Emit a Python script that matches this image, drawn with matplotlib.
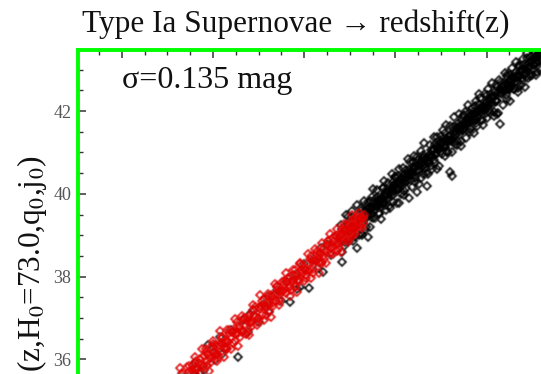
import matplotlib
matplotlib.use("Agg")
import numpy as np
import matplotlib.pyplot as plt
from matplotlib.ticker import MultipleLocator

# ---------------- data ----------------
# dense high-z black sample: x positions (arbitrary redshift axis units) and distance moduli
black_x = [round(2.40 + 0.01 * i, 2) for i in range(236)]
black_mu = [
    38.99, 38.84, 39.16, 38.97, 39.11, 38.84, 39.20, 39.01, 39.32, 39.13,
    38.99, 39.24, 39.16, 39.45, 39.12, 39.28, 38.98, 39.40, 39.25, 39.49,
    39.34, 39.18, 39.48, 39.32, 39.62, 39.31, 39.52, 39.13, 39.65, 39.51,
    39.65, 39.50, 39.82, 39.44, 39.65, 39.42, 39.79, 39.75, 39.60, 39.91,
    39.70, 39.92, 39.53, 39.82, 39.91, 39.70, 40.13, 39.80, 39.95, 39.73,
    40.08, 39.94, 40.06, 39.70, 40.20, 39.95, 40.09, 40.29, 39.98, 40.18,
    40.41, 40.26, 40.13, 40.43, 39.78, 40.25, 40.38, 40.21, 40.46, 40.06,
    40.38, 40.25, 40.57, 40.37, 40.50, 39.89, 40.60, 40.33, 40.52, 40.77,
    40.45, 40.62, 40.37, 40.71, 40.04, 40.81, 40.53, 40.77, 40.38, 40.75,
    40.94, 40.70, 40.91, 40.62, 40.87, 40.20, 40.76, 40.88, 40.66, 41.07,
    40.91, 41.05, 40.82, 41.21, 40.94, 41.16, 40.61, 41.12, 41.28, 41.01,
    41.21, 40.96, 41.32, 41.18, 41.46, 41.10, 41.32, 41.01, 41.40, 41.27,
    40.53, 41.27, 40.43, 41.62, 41.25, 41.52, 41.42, 41.61, 41.27, 41.71,
    41.42, 41.59, 41.28, 41.75, 41.56, 41.91, 41.71, 41.73, 41.55, 41.83,
    41.73, 41.94, 41.56, 41.87, 41.72, 41.98, 41.83, 42.11, 41.71, 41.94,
    42.04, 41.83, 42.18, 42.31, 42.06, 41.78, 42.12, 42.06, 42.19, 41.95,
    42.39, 42.11, 42.30, 41.99, 42.23, 42.42, 42.15, 42.34, 41.97, 42.46,
    42.26, 42.57, 42.23, 41.95, 42.53, 41.68, 42.54, 42.53, 42.67, 42.48,
    42.67, 42.38, 42.63, 42.84, 42.53, 42.64, 42.52, 42.87, 42.64, 42.82,
    42.52, 42.83, 42.93, 42.68, 42.84, 42.56, 43.08, 42.85, 42.99, 42.76,
    43.12, 42.89, 43.02, 42.81, 43.28, 42.94, 43.18, 43.07, 42.84, 43.20,
    43.28, 43.02, 43.22, 43.40, 43.17, 42.93, 43.37, 43.31, 43.18, 43.49,
    43.32, 43.45, 43.18, 43.51, 43.34, 43.67, 43.37, 43.59, 43.46, 43.64,
    43.36, 43.63, 43.77, 43.50, 43.64, 43.58,
]

# black points at the edges of the dense band
black_edge_x = [round(2.40 + 0.02 * j, 2) for j in range(118)]
black_edge_mu = [
    39.24, 38.60, 38.75, 39.48, 39.43, 38.89, 39.58, 38.87, 38.97, 39.74,
    39.01, 39.65, 39.00, 39.82, 39.20, 39.79, 39.19, 39.93, 40.11, 39.42,
    40.09, 39.52, 39.38, 40.15, 40.30, 39.62, 40.25, 39.65, 40.49, 39.80,
    40.40, 39.77, 40.60, 39.99, 40.62, 39.98, 40.13, 40.84, 40.76, 40.16,
    40.91, 40.29, 40.90, 40.23, 41.04, 40.48, 41.23, 40.51, 40.48, 41.17,
    40.59, 41.37, 40.75, 41.37, 40.66, 41.40, 41.54, 40.92, 41.67, 41.02,
    41.63, 41.01, 41.86, 41.21, 41.17, 41.92, 41.16, 41.89, 41.98, 41.34,
    42.14, 41.50, 42.08, 41.47, 42.25, 41.63, 42.42, 41.78, 41.66, 42.40,
    41.82, 42.54, 41.95, 42.67, 41.88, 42.62, 41.93, 42.75, 42.71, 42.15,
    42.92, 42.28, 42.89, 42.24, 43.04, 42.54, 43.18, 42.46, 43.11, 42.62,
    43.25, 42.59, 43.41, 42.79, 43.30, 42.86, 43.42, 42.87, 43.36, 43.05,
    42.98, 43.66, 43.16, 43.82, 43.31, 43.91, 43.22, 43.87,
]

# black points in the core of the dense band
black_core_x = [round(2.405 + 0.02 * j, 3) for j in range(118)]
black_core_mu = [
    39.00, 38.91, 39.14, 39.05, 39.18, 39.03, 39.22, 39.32, 39.21, 39.31,
    39.25, 39.45, 39.39, 39.59, 39.44, 39.57, 39.67, 39.52, 39.71, 39.70,
    39.84, 39.74, 39.84, 39.75, 40.01, 39.99, 39.91, 40.09, 40.04, 40.22,
    40.08, 40.22, 40.12, 40.35, 40.29, 40.47, 40.30, 40.48, 40.47, 40.45,
    40.65, 40.55, 40.70, 40.57, 40.73, 40.86, 40.72, 40.87, 40.75, 40.97,
    40.92, 41.08, 40.95, 41.08, 41.23, 41.10, 41.26, 41.12, 41.30, 41.30,
    41.43, 41.29, 41.48, 41.41, 41.62, 41.53, 41.63, 41.54, 41.77, 41.67,
    41.77, 41.91, 41.76, 41.93, 41.79, 41.98, 42.08, 41.98, 42.07, 42.02,
    42.22, 42.16, 42.34, 42.19, 42.35, 42.24, 42.45, 42.44, 42.41, 42.61,
    42.50, 42.67, 42.53, 42.70, 42.83, 42.68, 42.84, 42.81, 42.96, 42.79,
    42.99, 42.90, 43.10, 43.03, 43.21, 43.14, 43.11, 43.34, 43.24, 43.37,
    43.24, 43.44, 43.37, 43.56, 43.49, 43.63, 43.49, 43.66,
]

# sparse black points scattered around the low-z red band
black_low_x = [0.22, 0.30, 0.38, 0.45, 0.52, 0.60, 0.66, 0.72, 0.80, 0.86,
               0.95, 1.02, 1.08, 1.14, 1.20, 1.28, 1.33, 1.38, 1.45, 1.50,
               1.56, 1.62, 1.70, 1.75, 1.80, 1.85, 1.90, 1.95, 2.00, 2.05,
               2.10, 2.15, 2.21, 2.25, 2.30, 2.35, 2.42, 2.48, 2.58, 2.70,
               2.62, 1.60, 1.40, 1.00, 2.18, 1.92, 1.10, 0.90]
black_low_mu = [34.70, 34.55, 35.05, 34.88, 35.30, 35.14, 35.55, 35.38, 35.92, 35.70,
                36.35, 35.98, 36.54, 36.28, 36.70, 36.06, 36.95, 36.66, 37.20, 36.90,
                37.35, 37.15, 37.68, 37.40, 37.90, 37.39, 38.05, 37.76, 38.30, 37.72,
                38.42, 38.20, 38.11, 38.78, 38.52, 38.98, 38.35, 38.86, 38.70, 38.96,
                39.05, 37.52, 37.08, 36.30, 38.70, 37.70, 36.12, 35.75]

# red low-z sample
red_x = [round(0.20 + 0.02 * i, 2) for i in range(121)] + [
    2.36, 2.40, 2.44, 2.47, 2.50, 2.53, 2.55, 2.58, 2.60, 2.63, 2.65, 2.66, 2.42, 2.49, 2.56]
red_mu = [
    34.62, 34.48, 34.77, 34.62, 34.72, 34.56, 34.89, 34.76, 35.06, 34.78,
    34.99, 34.96, 35.15, 34.84, 35.19, 35.15, 35.04, 35.39, 35.18, 35.33,
    35.18, 35.50, 35.39, 35.67, 35.39, 35.60, 35.38, 35.72, 35.65, 35.86,
    35.65, 35.82, 35.57, 36.00, 35.90, 35.81, 36.17, 35.97, 36.14, 35.93,
    36.36, 36.11, 36.33, 36.11, 36.33, 36.52, 36.28, 36.48, 36.25, 36.63,
    36.52, 36.67, 36.44, 36.91, 36.64, 36.75, 36.66, 36.97, 36.62, 36.97,
    37.04, 36.90, 37.19, 37.03, 36.91, 37.26, 37.22, 37.08, 37.46, 37.25,
    37.36, 37.16, 37.56, 37.37, 37.58, 37.77, 37.42, 37.67, 37.62, 37.81,
    37.61, 37.96, 37.76, 37.86, 38.05, 37.74, 38.07, 37.91, 38.32, 38.08,
    38.21, 38.03, 38.34, 38.19, 38.49, 38.08, 38.41, 38.56, 38.36, 38.56,
    38.36, 38.68, 38.61, 38.87, 38.58, 38.79, 38.94, 38.74, 38.63, 39.03,
    38.94, 38.84, 39.10, 39.24, 39.05, 39.25, 38.99, 39.26, 39.41, 39.21,
    39.36,
    38.80, 38.98, 38.95, 39.15, 39.05, 39.27, 39.12, 39.35, 39.22, 39.42,
    39.30, 39.48, 39.10, 38.92, 39.40,
]
# red points at the edges of the red band
red_edge_x = [round(0.20 + 0.04 * k, 2) for k in range(62)]
red_edge_mu = [
    34.82, 34.29, 34.95, 34.40, 35.21, 34.70, 35.33, 34.81, 34.82, 35.53,
    35.08, 35.79, 35.20, 35.81, 35.26, 36.06, 35.57, 36.24, 36.25, 35.71,
    36.44, 35.95, 36.69, 36.05, 36.70, 36.26, 36.98, 36.33, 37.04, 36.63,
    36.60, 37.31, 36.84, 37.56, 36.95, 37.59, 37.03, 37.83, 37.31, 37.88,
    38.09, 37.52, 38.17, 37.62, 38.30, 37.89, 38.54, 37.97, 38.66, 38.08,
    38.80, 38.33, 39.04, 38.54, 39.16, 38.59, 39.27, 38.83, 39.49, 39.04,
    39.54, 39.17,
]
# red points in the core of the red band
red_core_x = [round(0.21 + 0.04 * k, 2) for k in range(62)]
red_core_mu = [
    34.50, 34.73, 34.70, 34.91, 34.79, 35.00, 34.93, 35.19, 35.21, 35.23,
    35.46, 35.37, 35.55, 35.48, 35.74, 35.75, 35.92, 35.83, 36.12, 36.04,
    36.18, 36.14, 36.39, 36.40, 36.42, 36.67, 36.61, 36.81, 36.69, 36.93,
    36.88, 37.08, 37.00, 37.30, 37.29, 37.31, 37.52, 37.42, 37.66, 37.66,
    37.87, 37.78, 37.95, 37.91, 38.15, 38.16, 38.13, 38.37, 38.37, 38.57,
    38.49, 38.76, 38.70, 38.86, 38.78, 39.00, 39.12, 39.07, 39.22, 39.20,
    39.41, 39.41,
]
# red points between core and edges
red_mid_x = [round(0.22 + 0.04 * k, 2) for k in range(61)]
red_mid_mu = [
    34.76, 34.50, 34.95, 34.63, 35.05, 34.76, 35.23, 34.99, 35.42, 35.12,
    35.18, 35.62, 35.39, 35.84, 35.53, 35.97, 35.65, 36.09, 35.84, 36.30,
    36.34, 36.04, 36.53, 36.27, 36.71, 36.40, 36.81, 36.54, 36.99, 36.74,
    36.79, 37.27, 36.98, 37.40, 37.08, 37.53, 37.29, 37.74, 37.47, 37.89,
    37.93, 37.68, 38.16, 37.86, 38.29, 37.97, 38.43, 38.19, 38.62, 38.31,
    38.42, 38.86, 38.56, 38.97, 38.69, 39.15, 38.91, 39.33, 39.05, 39.46,
    39.23,
]

title_text = "Type Ia Supernovae \u2192 redshift(z)"
sigma_text = "\u03c3=0.135 mag"
ylabel_text = "(z,H$_0$=73.0,q$_0$,j$_0$)"
yticks = [36, 38, 40, 42]


# soft look of the markers (the reference is slightly blurred)
class SoftFilter:
    def __init__(self, sigma_px=0.7):
        self.sigma = sigma_px

    def __call__(self, im, dpi):
        r = int(np.ceil(3 * self.sigma))
        k = np.exp(-0.5 * (np.arange(-r, r + 1) / self.sigma) ** 2)
        k /= k.sum()
        pad = np.pad(im, ((r, r), (r, r), (0, 0)))
        out = np.apply_along_axis(lambda v: np.convolve(v, k, mode='same'), 0, pad)
        out = np.apply_along_axis(lambda v: np.convolve(v, k, mode='same'), 1, out)
        return out, -r, -r


# ---------------- figure ----------------
W, H = 541, 374
fig = plt.figure(figsize=(W / 100, H / 100), dpi=100)
plt.rcParams['font.family'] = ['Liberation Serif', 'DejaVu Serif']
plt.rcParams['mathtext.fontset'] = 'stix'

left_px, top_px, right_px, bottom_px = 78.3, 50.0, 640.0, 440.0
ax = fig.add_axes([left_px / W, 1 - bottom_px / H,
                   (right_px - left_px) / W, (bottom_px - top_px) / H])

x0_px, xunit = 121.7, 91.2
ax.set_xlim((left_px - x0_px) / xunit, (right_px - x0_px) / xunit)
y42, yunit = 111.0, 41.4
ax.set_ylim(42 - (bottom_px - y42) / yunit, 42 + (y42 - top_px) / yunit)

mk = dict(marker='D', linestyle='none', markersize=4.2, markerfacecolor='none',
          markeredgewidth=1.25)
series = [
    (black_low_x, black_low_mu, 'black'),
    (black_edge_x, black_edge_mu, 'black'),
    (black_x, black_mu, 'black'),
    (black_core_x, black_core_mu, 'black'),
    (red_edge_x, red_edge_mu, '#e00000'),
    (red_mid_x, red_mid_mu, '#e00000'),
    (red_x, red_mu, '#e00000'),
    (red_core_x, red_core_mu, '#e00000'),
]
soft = SoftFilter(0.7)
for xs, ys, col in series:
    ln, = ax.plot(xs, ys, markeredgecolor=col, **mk)
    ln.set_agg_filter(soft)
    ln.set_rasterized(True)

for s in ['top', 'left']:
    ax.spines[s].set_color('#00ff00')
    ax.spines[s].set_linewidth(2.8)
for s in ['bottom', 'right']:
    ax.spines[s].set_visible(False)

ax.xaxis.set_major_locator(MultipleLocator(1))
ax.xaxis.set_minor_locator(MultipleLocator(0.25))
ax.set_yticks(yticks)
ax.yaxis.set_minor_locator(MultipleLocator(0.5))
ax.tick_params(axis='both', which='both', direction='in', color='#333333',
               top=True, bottom=False, right=False, left=True,
               labeltop=False, labelbottom=False)
ax.tick_params(which='major', length=6, width=1.1)
ax.tick_params(which='minor', length=3.5, width=1.0)
ax.tick_params(axis='y', labelsize=13, labelcolor='#555555', pad=5)

fig.text(295.5 / W, 1 - 32 / H, title_text, ha='center', va='baseline',
         fontsize=22.5, color='#111111')
fig.text(121.7 / W, 1 - 88 / H, sigma_text, ha='left', va='baseline',
         fontsize=23, color='#111111')
fig.text(32 / W, 1 - 155 / H, ylabel_text, rotation=90, ha='center', va='top',
         fontsize=22.5, color='#111111')

fig.savefig('out.png', dpi=100)
